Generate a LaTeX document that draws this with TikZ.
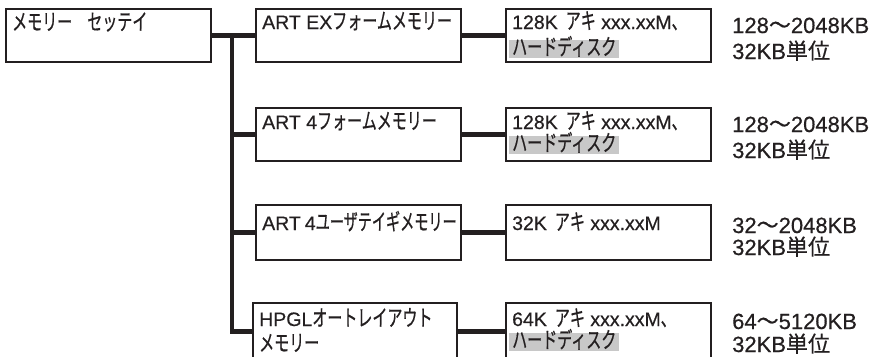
\documentclass[tikz,border=0pt]{standalone}
\usepackage{fontspec}
\setmainfont[FakeBold=0.5]{Liberation Sans}
\newfontfamily\jpn[FakeStretch=0.67,Scale=1.15,FakeBold=0.6]{Noto Sans CJK JP}
\newfontfamily\jpm[FakeStretch=0.63,Scale=1.15,FakeBold=0.6]{Noto Sans CJK JP}
\newfontfamily\jpw[FakeBold=0.4]{Noto Sans CJK JP}
\newcommand\jk[1]{{\jpn #1}}
\newcommand\jkm[1]{{\jpm #1}}
\newcommand\jw[1]{{\jpw #1}}
\definecolor{ln}{HTML}{231F20}
\definecolor{hl}{HTML}{C8C8C8}
\begin{document}
\begin{tikzpicture}[x=1pt,y=-1pt,
  box/.style={draw=ln, line width=1.3pt, rectangle, inner sep=0pt, outer sep=0pt,
    minimum width=205pt, minimum height=53pt, anchor=north west},
  conn/.style={draw=ln, line width=4.5pt, line join=miter},
  btxt/.style={anchor=base west, inner sep=0pt, text=ln, font=\fontsize{19.5}{22}\selectfont},
  hlt/.style={btxt, fill=hl, inner xsep=3pt, text height=15pt, text depth=3pt},
  rtxt/.style={anchor=base west, inner sep=0pt, text=ln, font=\fontsize{22}{24}\selectfont}]
\useasboundingbox (0,0) rectangle (874,356);
% boxes
\node[box] (m)  at (6,9) {};
\node[box] (a1) at (256,9) {};
\node[box] (b1) at (506,9) {};
\node[box] (a2) at (256,108) {};
\node[box] (b2) at (506,108) {};
\node[box,minimum height=55pt] (a3) at (256,205) {};
\node[box,minimum height=55pt] (b3) at (506,205) {};
\node[box,minimum width=204pt,minimum height=57pt] (a4) at (253,303) {};
\node[box,minimum height=57pt] (b4) at (506,303) {};
% connectors
\coordinate (tr) at (232,0);
\draw[conn] (m.east) -- (a1.west);
\draw[conn] (tr |- a1.west) |- (a4.west);
\draw[conn] (tr |- a2.west) -- (a2.west);
\draw[conn] (tr |- a3.west) -- (a3.west);
\draw[conn] (a1.east) -- (b1.west);
\draw[conn] (a2.east) -- (b2.west);
\draw[conn] (a3.east) -- (b3.west);
\draw[conn] (a4.east) -- (b4.west);
% box texts
\node[btxt] (tm) at (12,30) {\jk{メモリー　セッテイ}};
\node[btxt] (ta1) at (262,29) {ART EX\jk{フォームメモリー}};
\node[btxt] (tb1) at (512,29) {128K\hspace{8pt}\jk{アキ} xxx.xxM\jk{、}};
\node[hlt] (hb1) at (509,55) {\jk{ハードディスク}};
\node[btxt] (ta2) at (262,129) {ART 4\jk{フォームメモリー}};
\node[btxt] (tb2) at (512,129) {128K\hspace{8pt}\jk{アキ} xxx.xxM\jk{、}};
\node[hlt] (hb2) at (509,151) {\jk{ハードディスク}};
\node[btxt] (ta3) at (262,230) {ART\hspace{4pt}4\jkm{ユーザテイギメモリー}};
\node[btxt] (tb3) at (512,230) {32K\hspace{8pt}\jk{アキ} xxx.xxM};
\node[btxt] (ta4) at (259,326) {HPGL\jk{オートレイアウト}};
\node[btxt] (ta4b) at (259,351) {\jk{メモリー}};
\node[btxt] (tb4) at (512,326) {64K\hspace{8pt}\jk{アキ} xxx.xxM\jk{、}};
\node[hlt] (hb4) at (509,348) {\jk{ハードディスク}};
% right texts
\node[rtxt] (r1a) at (732,33) {128\jw{～}2048KB};
\node[rtxt] (r1b) at (732,59) {32KB\jw{単位}};
\node[rtxt] (r2a) at (732,132) {128\jw{～}2048KB};
\node[rtxt] (r2b) at (732,158) {32KB\jw{単位}};
\node[rtxt] (r3a) at (732,233) {32\jw{～}2048KB};
\node[rtxt] (r3b) at (732,255) {32KB\jw{単位}};
\node[rtxt] (r4a) at (732,329) {64\jw{～}5120KB};
\node[rtxt] (r4b) at (732,352) {32KB\jw{単位}};
\end{tikzpicture}
\end{document}
